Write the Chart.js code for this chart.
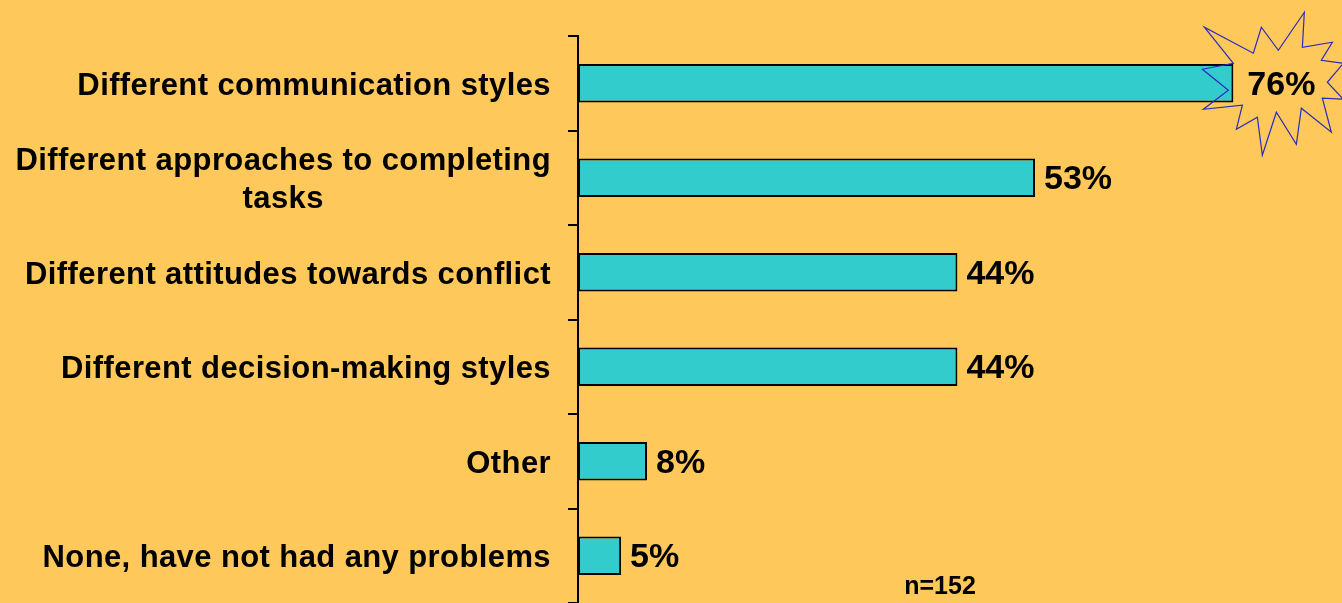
<!DOCTYPE html>
<html>
<head>
<meta charset="utf-8">
<script src="https://cdn.jsdelivr.net/npm/chart.js@4.4.0/dist/chart.umd.min.js"></script>
<style>
  body { margin: 0; background: #FFC85A; }
  canvas { display: block; }
</style>
</head>
<body>
<canvas id="problems" width="1342" height="603"></canvas>
<script>
const categories = [
    'Different communication styles',
    ['Different approaches to completing', 'tasks'],
    'Different attitudes towards conflict',
    'Different decision-making styles',
    'Other',
    'None, have not had any problems'
];
const percents = [76, 53, 44, 44, 8, 5];
const sampleNote = 'n=152';

const fontFamily = "'Liberation Sans', Arial, sans-serif";

// labels left of the axis + value labels + starburst on the top bar
const labelsPlugin = {
    id: 'labelsPlugin',
    afterDatasetsDraw(chart) {
        const ctx = chart.ctx;
        const y = chart.scales.y;
        const meta = chart.getDatasetMeta(0);
        ctx.save();
        ctx.fillStyle = '#000';
        ctx.textBaseline = 'middle';

        ctx.font = 'bold 31px ' + fontFamily;
        ctx.letterSpacing = '0.4px';
        categories.forEach((lab, i) => {
            const lines = Array.isArray(lab) ? lab : [lab];
            const cy = y.getPixelForValue(i) + 3;
            let widest = 0;
            lines.forEach(l => { widest = Math.max(widest, ctx.measureText(l).width); });
            ctx.textAlign = 'center';
            const cx = 551 - widest / 2;
            const lh = 38;
            lines.forEach((l, k) => {
                ctx.fillText(l, cx, cy + (k - (lines.length - 1) / 2) * lh);
            });
        });
        ctx.letterSpacing = '0px';

        // starburst behind the first value
        const first = meta.data[0];
        const sx = first.x + 50, sy = first.y;
        const star = [
            [21,-71],[19,-36],[49,-41],[38,-23],[60,-20],[44,-1],[60,16],[39,15],
            [48,49],[18,25],[13,61],[-7,29],[-21,72],[-26,34],[-47,46],[-41,22],
            [-80,26],[-55,7],[-81,-14],[-50,-20],[-79,-56],[-30,-30],[-22,-56],[-5,-33]
        ];
        ctx.beginPath();
        star.forEach((p, k) => {
            if (k === 0) ctx.moveTo(sx + p[0], sy + p[1]);
            else ctx.lineTo(sx + p[0], sy + p[1]);
        });
        ctx.closePath();
        ctx.strokeStyle = '#2A2ABF';
        ctx.lineWidth = 1.2;
        ctx.stroke();

        ctx.font = 'bold 34px ' + fontFamily;
        ctx.textAlign = 'left';
        meta.data.forEach((bar, i) => {
            const gap = i === 0 ? 14 : 9;
            ctx.fillText(percents[i] + '%', bar.x + gap, bar.y + 2);
        });

        ctx.font = 'bold 25px ' + fontFamily;
        ctx.textAlign = 'center';
        ctx.textBaseline = 'alphabetic';
        ctx.fillText(sampleNote, 940, 594);
        ctx.restore();
    }
};

const chart = new Chart(document.getElementById('problems').getContext('2d'), {
    type: 'bar',
    data: {
        labels: categories,
        datasets: [{
            data: percents,
            backgroundColor: '#33CCCC',
            borderColor: '#000',
            borderWidth: 2,
            borderSkipped: false,
            categoryPercentage: 1,
            barPercentage: 0.405
        }]
    },
    options: {
        indexAxis: 'y',
        responsive: false,
        animation: false,
        layout: { padding: { top: 36, right: 0, bottom: 0, left: 0 } },
        plugins: {
            legend: { display: false },
            tooltip: { enabled: false }
        },
        scales: {
            x: {
                display: false,
                min: 0,
                max: 88.6
            },
            y: {
                afterFit: (s) => { s.width = 578; },
                ticks: { display: false },
                grid: {
                    offset: true,
                    drawOnChartArea: false,
                    drawTicks: true,
                    tickLength: 10,
                    color: '#000',
                    lineWidth: 2
                },
                border: { display: true, color: '#000', width: 2 }
            }
        }
    },
    plugins: [labelsPlugin]
});
</script>
</body>
</html>
